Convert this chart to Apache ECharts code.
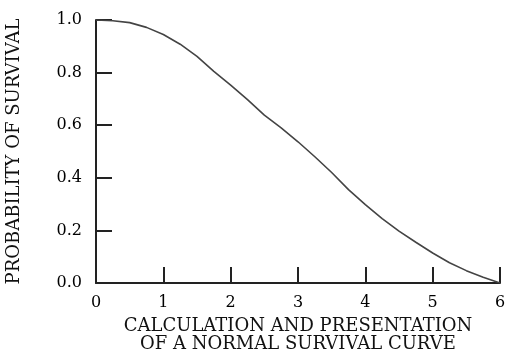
<!DOCTYPE html>
<html><head><meta charset="utf-8">
<script src="https://cdn.jsdelivr.net/npm/echarts@6/dist/echarts.min.js"></script>
<style>html,body{margin:0;padding:0;background:#fff}#c{width:509px;height:360px}</style>
</head><body><div id="c"></div>
<script>
var times = [0,0.25,0.5,0.75,1,1.25,1.5,1.75,2,2.25,2.5,2.75,3,3.25,3.5,3.75,4,4.25,4.5,4.75,5,5.25,5.5,5.75,6];
var survival = [1.0,0.997,0.99,0.972,0.945,0.908,0.862,0.805,0.752,0.697,0.638,0.59,0.537,0.48,0.42,0.355,0.298,0.245,0.197,0.155,0.114,0.077,0.047,0.022,0.0];
var xTitle = 'CALCULATION AND PRESENTATION\nOF A NORMAL SURVIVAL CURVE';
var yTitle = 'PROBABILITY OF SURVIVAL';
var font = 'DejaVu Serif';
var chart = echarts.init(document.getElementById('c'));
chart.setOption({
  animation:false,
  grid:{left:96,right:9,top:20,bottom:77,containLabel:false,outerBoundsMode:'none'},
  xAxis:{type:'value',min:0,max:6,interval:1,
    axisLine:{lineStyle:{color:'#222',width:2}},
    axisTick:{inside:true,length:16,lineStyle:{color:'#222',width:2}},
    axisLabel:{color:'#000',fontFamily:font,fontSize:16,margin:12},
    splitLine:{show:false},
    name:xTitle,nameLocation:'middle',nameGap:34,
    nameTextStyle:{color:'#111',fontFamily:font,fontSize:18,lineHeight:18,verticalAlign:'top'}
  },
  yAxis:{type:'value',min:0,max:1,interval:0.2,
    axisLine:{show:true,lineStyle:{color:'#222',width:2}},
    axisTick:{show:true,inside:true,length:16,lineStyle:{color:'#222',width:2}},
    axisLabel:{color:'#000',fontFamily:font,fontSize:16,margin:14,formatter:function(v){return v.toFixed(1);}},
    splitLine:{show:false},
    name:yTitle,nameLocation:'middle',nameGap:73,
    nameTextStyle:{color:'#111',fontFamily:font,fontSize:18}
  },
  series:[{type:'line',data:times.map(function(t,i){return [t,survival[i]];}),
    showSymbol:false,smooth:false,lineStyle:{color:'#444',width:1.6}}]
});
</script></body></html>
